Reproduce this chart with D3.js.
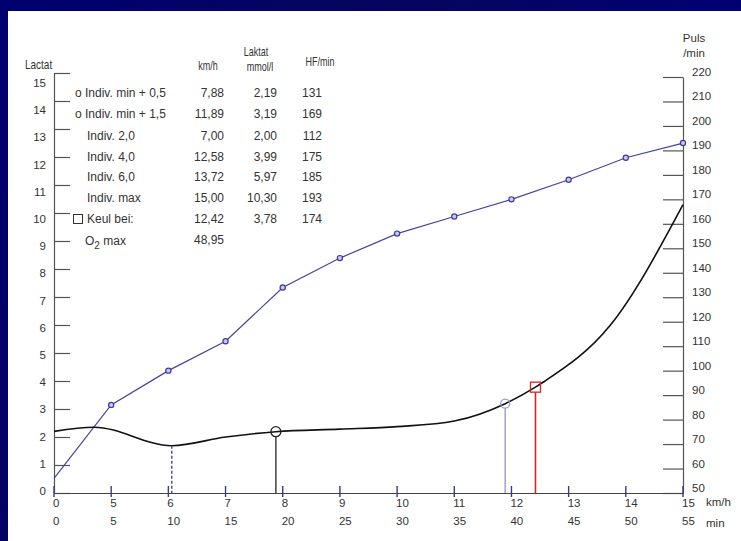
<!DOCTYPE html>
<html><head><meta charset="utf-8">
<script src="https://cdn.jsdelivr.net/npm/d3@7"></script>
<style>html,body{margin:0;padding:0;background:#000068;} svg{display:block;}</style>
</head><body>
<script>
// Stage speeds (km/h) and heart rate at the end of each stage
const stageSpeed = [0, 5, 6, 7, 8, 9, 10, 11, 12, 13, 14, 15];
const stageHF    = [56, 86, 100, 112, 134, 146, 156, 163, 170, 178, 187, 193];

// Lactate curve support points (speed km/h, lactate mmol/l)
const lactSpeed = [0, 3.5, 6.06, 7.0, 7.88, 9, 10, 11, 11.89, 12.42, 12.58, 13.72, 15];
const lactValue = [2.2, 2.35, 1.69, 2.0, 2.19, 2.28, 2.37, 2.57, 3.19, 3.78, 3.99, 5.97, 10.3];

// Individual lactate minimum
const lactMinSpeed = 6.06;
const lactMinValue = 1.69;

// Axis ticks
const speedTicks  = [0, 5, 6, 7, 8, 9, 10, 11, 12, 13, 14, 15];
const minuteTicks = [0, 5, 10, 15, 20, 25, 30, 35, 40, 45, 50, 55];
const lactTicks   = [0, 1, 2, 3, 4, 5, 6, 7, 8, 9, 10, 11, 12, 13, 14, 15];
const pulseTicks  = [50, 60, 70, 80, 90, 100, 110, 120, 130, 140, 150, 160, 170, 180, 190, 200, 210, 220];

// Threshold table
const rowLabels  = ["o Indiv. min + 0,5", "o Indiv. min + 1,5", "Indiv. 2,0", "Indiv. 4,0", "Indiv. 6,0", "Indiv. max", "Keul bei:", "O2 max"];
const rowSpeed   = [7.88, 11.89, 7.00, 12.58, 13.72, 15.00, 12.42, 48.95];
const rowLactate = [2.19, 3.19, 2.00, 3.99, 5.97, 10.30, 3.78, null];
const rowHF      = [131, 169, 112, 175, 185, 193, 174, null];

const W = 741, H = 541;
const FONT = "'Liberation Sans', Arial, Helvetica, sans-serif";
const TXT = "#333";

const svg = d3.select("body").append("svg").attr("width", W).attr("height", H)
  .style("font-family", FONT);

// Backdrop
const defs = svg.append("defs");
const g1 = defs.append("linearGradient").attr("id", "bg").attr("x1", 0).attr("y1", 0).attr("x2", 1).attr("y2", 0.3);
g1.append("stop").attr("offset", "0").attr("stop-color", "#000070");
g1.append("stop").attr("offset", "0.5").attr("stop-color", "#05055e");
g1.append("stop").attr("offset", "1").attr("stop-color", "#000078");
svg.append("rect").attr("width", W).attr("height", H).attr("fill", "url(#bg)");
svg.append("rect").attr("x", 8).attr("y", 11).attr("width", W - 8).attr("height", H - 11).attr("fill", "#fff");

// Time runs along the x axis; stage speed is 4 + min/5 after the 5 min warm-up ramp
const minuteOf = v => v <= 5 ? v : 5 * (v - 4);
const x = d3.scaleLinear().domain([0, 55]).range([54, 683]);
const xs = v => x(minuteOf(v));
const yL = d3.scaleLinear().domain([0, 15]).range([493, 73]);
const yLlab = d3.scaleLinear().domain([0, 15]).range([491, 83]);
const yR = d3.scaleLinear().domain([50, 220]).range([493, 77]);

// Left lactate axis
const gl = svg.append("g").attr("transform", "translate(54,0)")
  .call(d3.axisRight(yL).tickValues(lactTicks).tickSize(16).tickSizeOuter(0).tickFormat(""));
gl.selectAll("path,line").attr("stroke", "#555").attr("stroke-width", 1.2);
svg.append("g").selectAll("text").data(lactTicks).join("text")
  .attr("x", 46).attr("y", d => yLlab(d)).attr("dy", "0.35em")
  .attr("text-anchor", "end").attr("font-size", 11.5).attr("fill", TXT).text(d => d);

// Right pulse axis
const gr = svg.append("g").attr("transform", "translate(683,0)")
  .call(d3.axisLeft(yR).tickValues(pulseTicks).tickSize(20).tickSizeOuter(0).tickFormat(""));
gr.selectAll("path,line").attr("stroke", "#555").attr("stroke-width", 1.2);
svg.append("g").selectAll("text").data(pulseTicks).join("text")
  .attr("x", 692).attr("y", d => yR(d) - 5).attr("dy", "0.35em")
  .attr("font-size", 11.5).attr("fill", TXT).text(d => d);
svg.append("text").attr("x", 694).attr("y", 38).attr("dy", "0.35em").attr("text-anchor", "middle")
  .attr("font-size", 11.5).attr("fill", TXT).text("Puls");
svg.append("text").attr("x", 694).attr("y", 53).attr("dy", "0.35em").attr("text-anchor", "middle")
  .attr("font-size", 11.5).attr("fill", TXT).text("/min");

// Bottom axis
const gb = svg.append("g").attr("transform", "translate(0,493)")
  .call(d3.axisBottom(x).tickValues([]).tickSizeOuter(0));
gb.selectAll("path").attr("stroke", "#444").attr("stroke-width", 1.2);
svg.append("g").selectAll("line").data(minuteTicks).join("line")
  .attr("x1", d => x(d)).attr("x2", d => x(d)).attr("y1", 486).attr("y2", 497)
  .attr("stroke", "#3a3a8a").attr("stroke-width", 1.4);
svg.append("g").selectAll("text").data(speedTicks).join("text")
  .attr("x", (d, i) => x(minuteTicks[i]) - 1).attr("y", 503).attr("dy", "0.35em")
  .attr("font-size", 11.5).attr("fill", TXT).text(d => d);
svg.append("g").selectAll("text").data(minuteTicks).join("text")
  .attr("x", d => x(d) - 1).attr("y", 521).attr("dy", "0.35em")
  .attr("font-size", 11.5).attr("fill", TXT).text(d => d);
svg.append("text").attr("x", 706).attr("y", 502).attr("dy", "0.35em")
  .attr("font-size", 11.5).attr("fill", TXT).text("km/h");
svg.append("text").attr("x", 706).attr("y", 523).attr("dy", "0.35em")
  .attr("font-size", 11.5).attr("fill", TXT).text("min");

// Narrow header labels
function narrow(tx, ty, str, anchor, sx) {
  svg.append("text").attr("transform", `translate(${tx},${ty}) scale(${sx || 0.72},1)`)
    .attr("dy", "0.35em").attr("text-anchor", anchor || "start")
    .attr("font-size", 12.5).attr("fill", TXT).text(str);
}
narrow(25, 65, "Lactat", "start", 0.8);
narrow(208, 66, "km/h", "middle");
narrow(256, 52, "Laktat", "middle");
narrow(260, 67, "mmol/l", "middle");
narrow(320, 62, "HF/min", "middle");

// Threshold table
const rowY = [92.5, 114, 135.5, 156.5, 176.5, 197.5, 219, 240];
const fmt = v => d3.format(".2f")(v).replace(".", ",");
const tbl = svg.append("g").attr("font-size", 12).attr("fill", TXT);
rowLabels.forEach((lab, i) => {
  const lx = i < 2 ? 75 : 87;
  if (lab === "O2 max") {
    const t = tbl.append("text").attr("x", 85).attr("y", rowY[i] + 1).attr("dy", "0.35em");
    t.append("tspan").text("O");
    t.append("tspan").attr("dy", 4).attr("font-size", 10).text("2");
    t.append("tspan").attr("dy", -4).text(" max");
  } else {
    tbl.append("text").attr("x", lx).attr("y", rowY[i]).attr("dy", "0.35em").text(lab);
  }
  tbl.append("text").attr("x", 224).attr("y", rowY[i]).attr("dy", "0.35em")
    .attr("text-anchor", "end").text(fmt(rowSpeed[i]));
  if (rowLactate[i] != null)
    tbl.append("text").attr("x", 277).attr("y", rowY[i]).attr("dy", "0.35em")
      .attr("text-anchor", "end").text(fmt(rowLactate[i]));
  if (rowHF[i] != null)
    tbl.append("text").attr("x", 322).attr("y", rowY[i]).attr("dy", "0.35em")
      .attr("text-anchor", "end").text(rowHF[i]);
});
// Keul legend square
tbl.append("rect").attr("x", 73.5).attr("y", rowY[6] - 4.5).attr("width", 9).attr("height", 9)
  .attr("fill", "none").attr("stroke", "#333").attr("stroke-width", 1);

// Pulse series
const pulsePts = stageSpeed.map((s, i) => [xs(s), yR(stageHF[i])]);
svg.append("path").attr("d", d3.line()(pulsePts))
  .attr("fill", "none").attr("stroke", "#4444a0").attr("stroke-width", 1.2);
svg.append("g").selectAll("circle").data(pulsePts.slice(1)).join("circle")
  .attr("cx", d => d[0]).attr("cy", d => d[1]).attr("r", 2.6)
  .attr("fill", "#c8c8ee").attr("stroke", "#3c3c98").attr("stroke-width", 1.2);

// Lactate curve
const lactPts = lactSpeed.map((s, i) => [xs(s), yL(lactValue[i])]);
svg.append("path").attr("d", d3.line().curve(d3.curveMonotoneX)(lactPts))
  .attr("fill", "none").attr("stroke", "#111").attr("stroke-width", 1.6);

// Individual minimum (dotted drop line)
svg.append("line").attr("x1", xs(lactMinSpeed)).attr("x2", xs(lactMinSpeed))
  .attr("y1", yL(lactMinValue)).attr("y2", 493)
  .attr("stroke", "#3a3a8a").attr("stroke-width", 1.3).attr("stroke-dasharray", "3,2");

// min + 0,5
const m05x = xs(rowSpeed[0]), m05y = yL(rowLactate[0]);
svg.append("line").attr("x1", m05x).attr("x2", m05x).attr("y1", m05y + 5).attr("y2", 493)
  .attr("stroke", "#333").attr("stroke-width", 1.4);
svg.append("circle").attr("cx", m05x).attr("cy", m05y).attr("r", 5)
  .attr("fill", "none").attr("stroke", "#222").attr("stroke-width", 1.3);

// min + 1,5
const m15x = xs(rowSpeed[1]), m15y = yL(rowLactate[1]);
svg.append("line").attr("x1", m15x).attr("x2", m15x).attr("y1", m15y + 4.5).attr("y2", 493)
  .attr("stroke", "#9a9ad0").attr("stroke-width", 1.4);
svg.append("circle").attr("cx", m15x).attr("cy", m15y).attr("r", 4.5)
  .attr("fill", "none").attr("stroke", "#9a9ad0").attr("stroke-width", 1.3);

// Keul threshold
const kx = xs(rowSpeed[6]), ky = yL(rowLactate[6]);
svg.append("line").attr("x1", kx).attr("x2", kx).attr("y1", ky + 5).attr("y2", 493)
  .attr("stroke", "#d22").attr("stroke-width", 1.6);
svg.append("rect").attr("x", kx - 5).attr("y", ky - 5).attr("width", 10).attr("height", 10)
  .attr("fill", "none").attr("stroke", "#d22").attr("stroke-width", 1.3);
</script>
</body></html>
